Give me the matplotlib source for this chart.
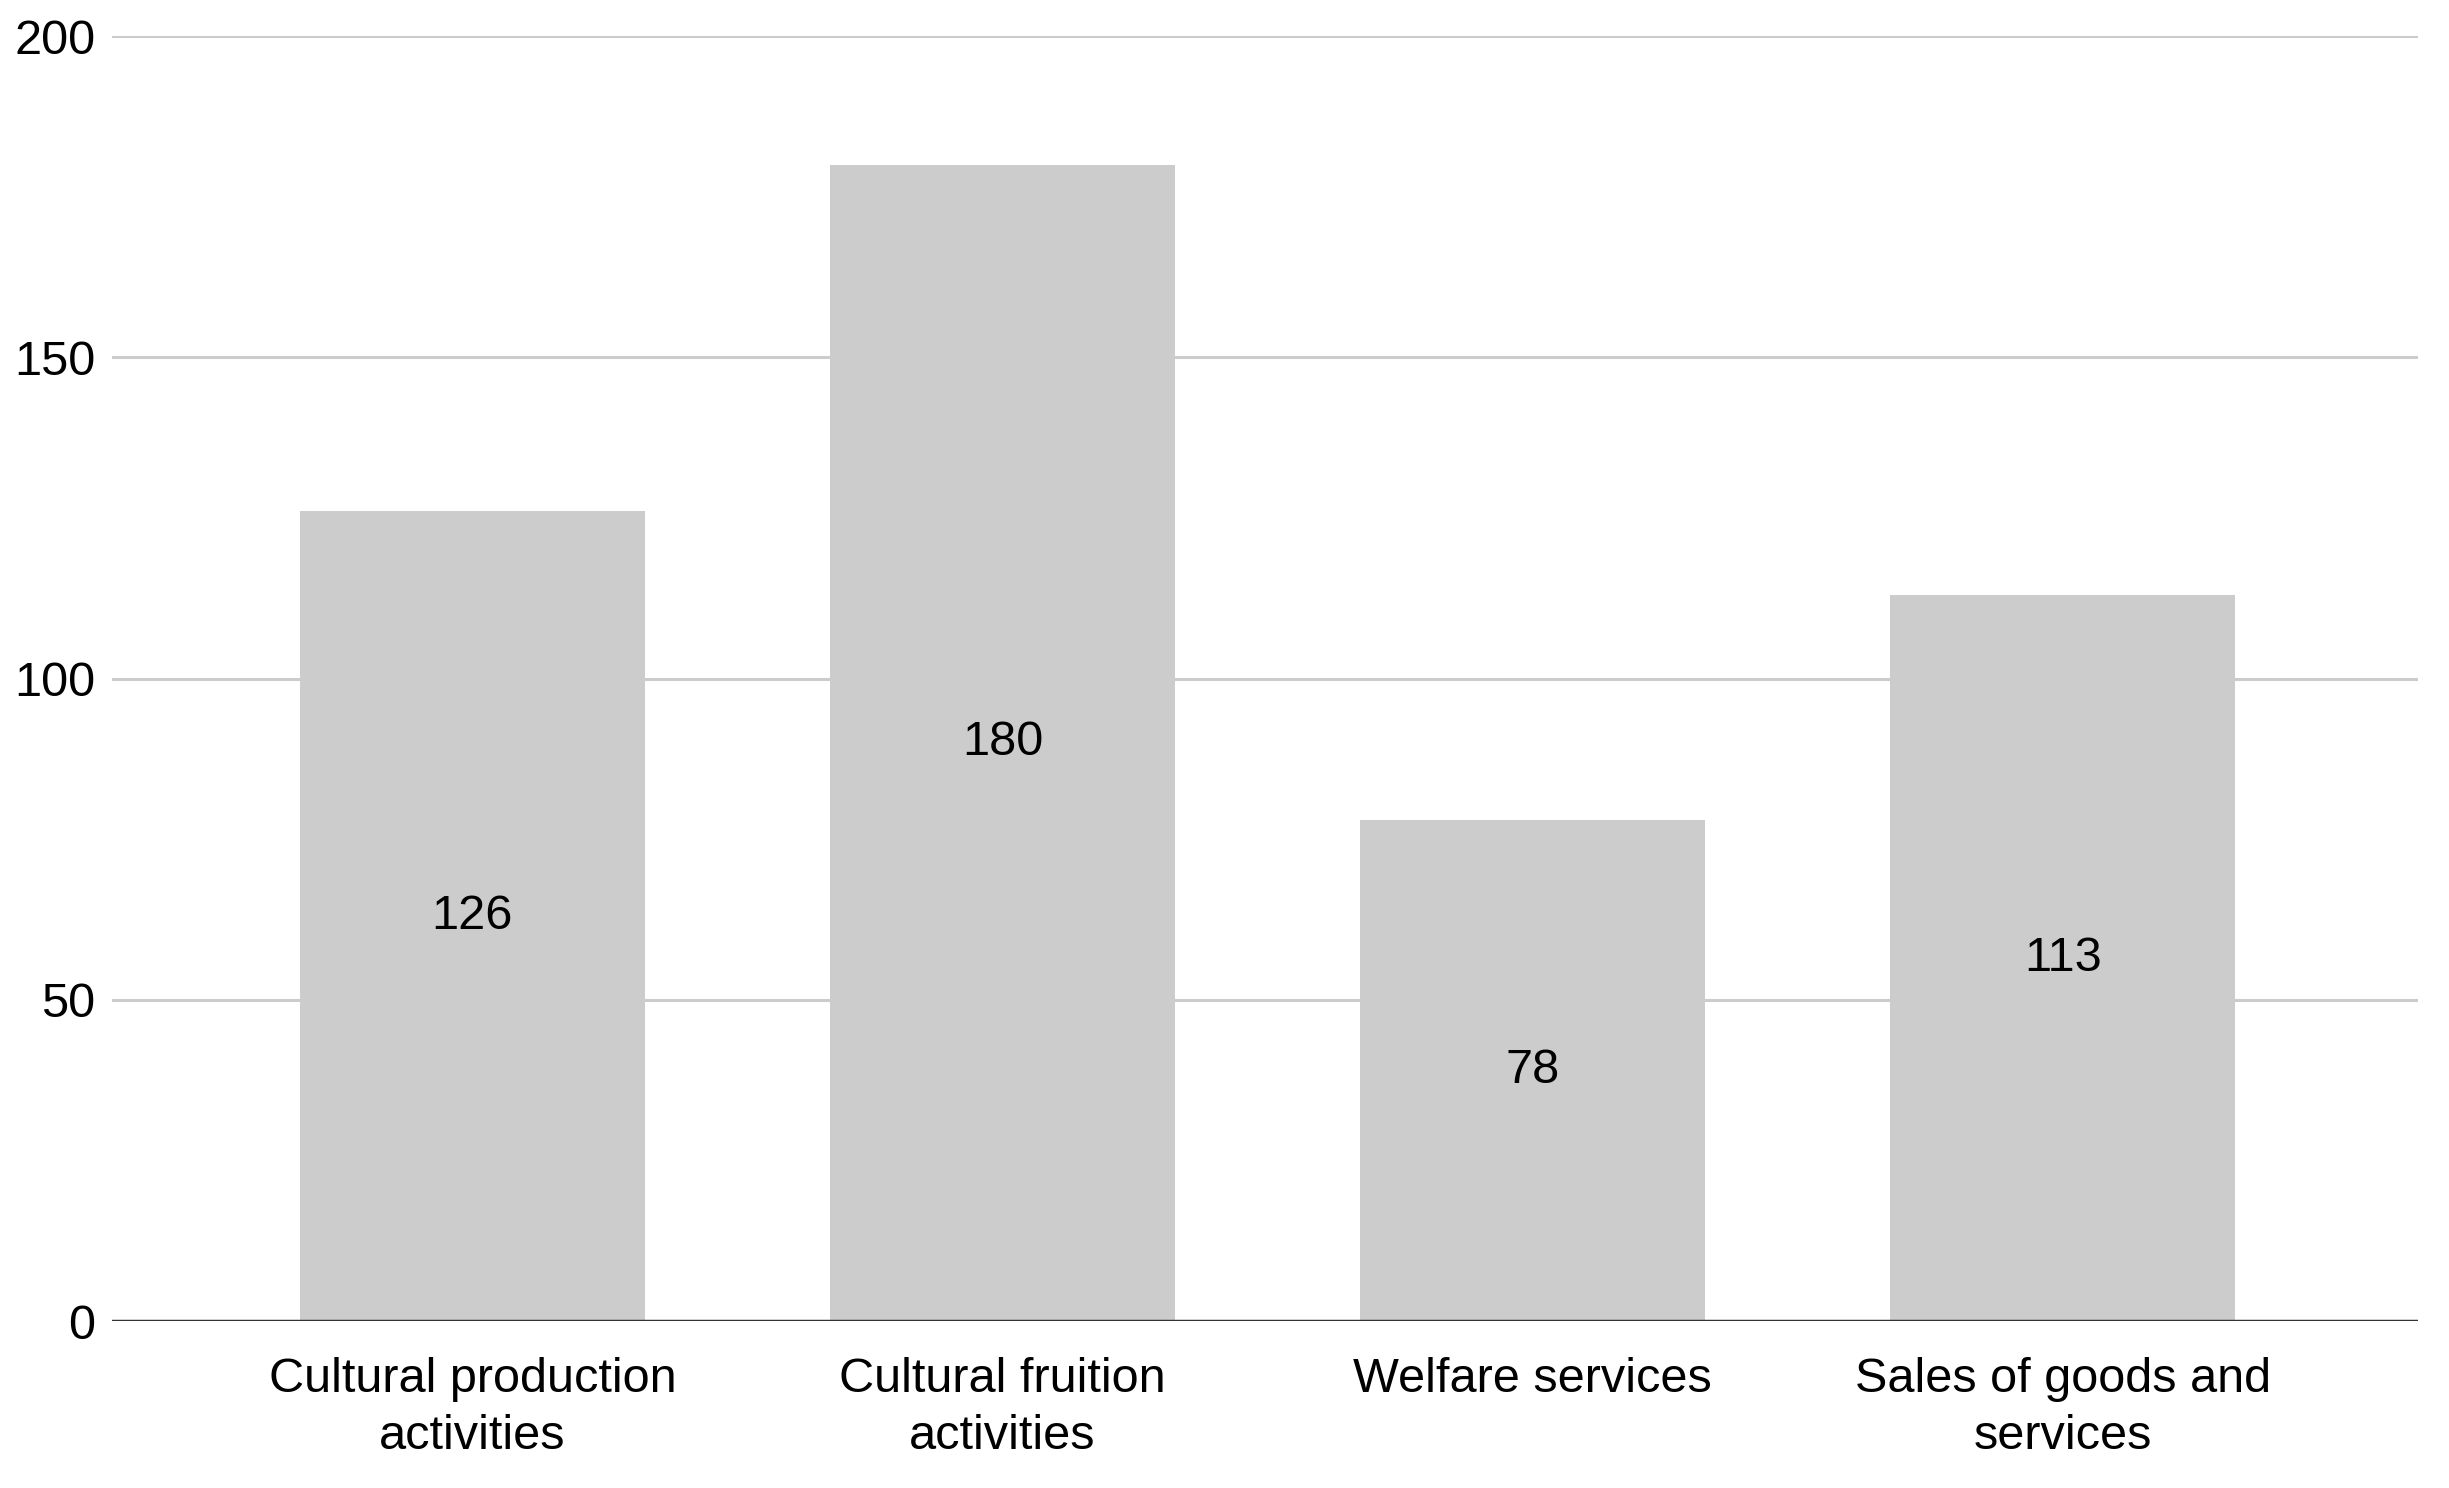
import matplotlib.pyplot as plt
import numpy as np

plt.rcParams['font.family'] = ['Liberation Sans', 'DejaVu Sans']

# данные с картинки
categories = ['Cultural production\nactivities', 'Cultural fruition\nactivities',
              'Welfare services', 'Sales of goods and\nservices']
values = [126, 180, 78, 113]
yticks = [0, 50, 100, 150, 200]

fig = plt.figure(figsize=(24.49, 14.88), dpi=100)
ax = fig.add_axes([0.0457, 0.1122, 0.9416, 0.8636])

x = np.arange(len(categories))
bars = ax.bar(x, values, width=0.65, color='#cccccc', zorder=2)

# подписи в середине столбцов
for xi, v in zip(x, values):
    ax.text(xi, v / 2, str(v), ha='center', va='center', fontsize=35, color='#000000', zorder=3)

ax.set_xlim(-0.68, 3.67)
ax.set_ylim(0, 200)
ax.set_yticks(yticks)
ax.set_yticklabels([str(t) for t in yticks])
ax.set_xticks(x)
ax.set_xticklabels(categories, fontsize=35, linespacing=1.34)

ax.tick_params(axis='y', length=0, pad=12, labelsize=35)
ax.tick_params(axis='x', length=0, pad=26)

for t in yticks[1:]:
    ax.axhline(t, color='#cccccc', linewidth=2.2, zorder=1)
ax.axhline(0, color='#333333', linewidth=2.5, zorder=4)

for s in ax.spines.values():
    s.set_visible(False)

fig.savefig('out.png', dpi=100, facecolor='white')
